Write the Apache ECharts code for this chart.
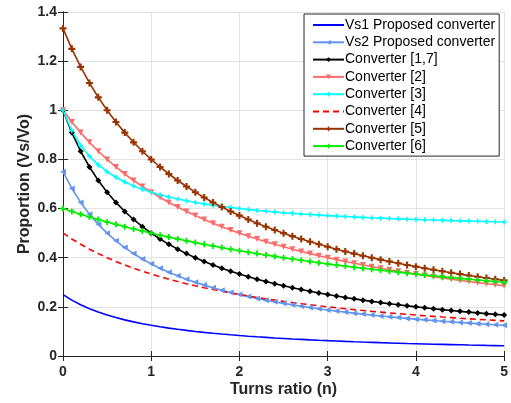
<!DOCTYPE html>
<html><head><meta charset="utf-8">
<script src="https://cdn.jsdelivr.net/npm/echarts@6/dist/echarts.min.js"></script>
<style>html,body{margin:0;padding:0;background:#fff}#c{width:511px;height:403px}</style>
</head><body><div id="c"></div>
<script>
const turns = [0,0.1,0.2,0.3,0.4,0.5,0.6,0.7,0.8,0.9,1,1.1,1.2,1.3,1.4,1.5,1.6,1.7,1.8,1.9,2,2.1,2.2,2.3,2.4,2.5,2.6,2.7,2.8,2.9,3,3.1,3.2,3.3,3.4,3.5,3.6,3.7,3.8,3.9,4,4.1,4.2,4.3,4.4,4.5,4.6,4.7,4.8,4.9,5];
const vs1 = [0.25,0.2273,0.2083,0.1923,0.1786,0.1667,0.1563,0.1471,0.1389,0.1316,0.125,0.119,0.1136,0.1087,0.1042,0.1,0.0962,0.0926,0.0893,0.0862,0.0833,0.0806,0.0781,0.0758,0.0735,0.0714,0.0694,0.0676,0.0658,0.0641,0.0625,0.061,0.0595,0.0581,0.0568,0.0556,0.0543,0.0532,0.0521,0.051,0.05,0.049,0.0481,0.0472,0.0463,0.0455,0.0446,0.0439,0.0431,0.0424,0.0417];
const vs2 = [0.75,0.6818,0.625,0.5769,0.5357,0.5,0.4688,0.4412,0.4167,0.3947,0.375,0.3571,0.3409,0.3261,0.3125,0.3,0.2885,0.2778,0.2679,0.2586,0.25,0.2419,0.2344,0.2273,0.2206,0.2143,0.2083,0.2027,0.1974,0.1923,0.1875,0.1829,0.1786,0.1744,0.1705,0.1667,0.163,0.1596,0.1563,0.1531,0.15,0.1471,0.1442,0.1415,0.1389,0.1364,0.1339,0.1316,0.1293,0.1271,0.125];
const conv17 = [1,0.9091,0.8333,0.7692,0.7143,0.6667,0.625,0.5882,0.5556,0.5263,0.5,0.4762,0.4545,0.4348,0.4167,0.4,0.3846,0.3704,0.3571,0.3448,0.3333,0.3226,0.3125,0.303,0.2941,0.2857,0.2778,0.2703,0.2632,0.2564,0.25,0.2439,0.2381,0.2326,0.2273,0.2222,0.2174,0.2128,0.2083,0.2041,0.2,0.1961,0.1923,0.1887,0.1852,0.1818,0.1786,0.1754,0.1724,0.1695,0.1667];
const conv2 = [1,0.9524,0.9091,0.8696,0.8333,0.8,0.7692,0.7407,0.7143,0.6897,0.6667,0.6452,0.625,0.6061,0.5882,0.5714,0.5556,0.5405,0.5263,0.5128,0.5,0.4878,0.4762,0.4651,0.4545,0.4444,0.4348,0.4255,0.4167,0.4082,0.4,0.3922,0.3846,0.3774,0.3704,0.3636,0.3571,0.3509,0.3448,0.339,0.3333,0.3279,0.3226,0.3175,0.3125,0.3077,0.303,0.2985,0.2941,0.2899,0.2857];
const conv3 = [1,0.9167,0.8571,0.8125,0.7778,0.75,0.7273,0.7083,0.6923,0.6786,0.6667,0.6563,0.6471,0.6389,0.6316,0.625,0.619,0.6136,0.6087,0.6042,0.6,0.5962,0.5926,0.5893,0.5862,0.5833,0.5806,0.5781,0.5758,0.5735,0.5714,0.5694,0.5676,0.5658,0.5641,0.5625,0.561,0.5595,0.5581,0.5568,0.5556,0.5543,0.5532,0.5521,0.551,0.55,0.549,0.5481,0.5472,0.5463,0.5455];
const conv4 = [0.5,0.4762,0.4545,0.4348,0.4167,0.4,0.3846,0.3704,0.3571,0.3448,0.3333,0.3226,0.3125,0.303,0.2941,0.2857,0.2778,0.2703,0.2632,0.2564,0.25,0.2439,0.2381,0.2326,0.2273,0.2222,0.2174,0.2128,0.2083,0.2041,0.2,0.1961,0.1923,0.1887,0.1852,0.1818,0.1786,0.1754,0.1724,0.1695,0.1667,0.1639,0.1613,0.1587,0.1563,0.1538,0.1515,0.1493,0.1471,0.1449,0.1429];
const conv5 = [1.3333,1.25,1.1765,1.1111,1.0526,1,0.9524,0.9091,0.8696,0.8333,0.8,0.7692,0.7407,0.7143,0.6897,0.6667,0.6452,0.625,0.6061,0.5882,0.5714,0.5556,0.5405,0.5263,0.5128,0.5,0.4878,0.4762,0.4651,0.4545,0.4444,0.4348,0.4255,0.4167,0.4082,0.4,0.3922,0.3846,0.3774,0.3704,0.3636,0.3571,0.3509,0.3448,0.339,0.3333,0.3279,0.3226,0.3175,0.3125,0.3077];
const conv6 = [0.6,0.5882,0.5769,0.566,0.5556,0.5455,0.5357,0.5263,0.5172,0.5085,0.5,0.4918,0.4839,0.4762,0.4688,0.4615,0.4545,0.4478,0.4412,0.4348,0.4286,0.4225,0.4167,0.411,0.4054,0.4,0.3947,0.3896,0.3846,0.3797,0.375,0.3704,0.3659,0.3614,0.3571,0.3529,0.3488,0.3448,0.3409,0.3371,0.3333,0.3297,0.3261,0.3226,0.3191,0.3158,0.3125,0.3093,0.3061,0.303,0.3];
const seriesNames = ['Vs1 Proposed converter','Vs2 Proposed converter','Converter [1,7]','Converter [2]','Converter [3]','Converter [4]','Converter [5]','Converter [6]'];
const xTicks = [0,1,2,3,4,5];
const yTicks = [0,0.2,0.4,0.6,0.8,1,1.2,1.4];

const pair = arr => turns.map((n,i)=>[n,arr[i]]);
const plus = 'path://M3.5,0H6.5V3.5H10V6.5H6.5V10H3.5V6.5H0V3.5H3.5Z';
const txt = '#262626';
const FONT = 'Liberation Sans, Arial';
function mk(name, data, color, opts){
  return Object.assign({
    name, type:'line', data:pair(data), showSymbol:true, symbol:'none', symbolSize:6,
    lineStyle:{color, width:1.6}, itemStyle:{color}, emphasis:{disabled:true}
  }, opts||{});
}
const series = [
  mk(seriesNames[0], vs1, '#0000ff', {symbol:'none'}),
  mk(seriesNames[1], vs2, '#6495ed', {symbol:'triangle', symbolRotate:90, symbolSize:6}),
  mk(seriesNames[2], conv17, '#000000', {symbol:'diamond', symbolSize:6}),
  mk(seriesNames[3], conv2, '#ff6b6b', {symbol:'triangle', symbolRotate:180, symbolSize:6}),
  mk(seriesNames[4], conv3, '#00ffff', {symbol:plus, symbolSize:5}),
  mk(seriesNames[5], conv4, '#ff0000', {symbol:'none', lineStyle:{color:'#ff0000', width:1.6, type:[6,4]}}),
  mk(seriesNames[6], conv5, '#993300', {symbol:plus, symbolSize:7}),
  mk(seriesNames[7], conv6, '#00ee00', {symbol:plus, symbolSize:6})
];
const legendData = seriesNames.map((n,i)=> (i===0||i===5) ? {name:n, itemStyle:{opacity:0}} : {name:n});
const chart = echarts.init(document.getElementById('c'), null, {renderer:'canvas'});
const axLine = {show:true, lineStyle:{color:txt, width:1}};
chart.setOption({
  animation:false,
  backgroundColor:'#fff',
  grid:{left:63, right:5, top:12, bottom:47},
  legend:{
    orient:'vertical', left:304, top:14,
    data:legendData,
    itemWidth:31, itemHeight:6, itemGap:3.3,
    padding:[4,4,3,8],
    backgroundColor:'#fff', borderColor:txt, borderWidth:1,
    textStyle:{fontFamily:FONT, fontSize:14, lineHeight:14, color:'#000', padding:[0,0,0,-4]},
    selectedMode:false
  },
  xAxis:[{
    type:'value', min:0, max:5, interval:1,
    name:'Turns ratio (n)', nameLocation:'middle', nameGap:26, nameMoveOverlap:false,
    nameTextStyle:{fontFamily:FONT, fontWeight:'bold', fontSize:16, color:txt},
    axisLine:axLine, axisTick:{show:true, inside:true, length:5, lineStyle:{color:txt}},
    axisLabel:{fontFamily:FONT, fontWeight:'bold', fontSize:14, color:txt, margin:9,
      formatter:v=>xTicks.includes(v)?String(v):''},
    splitLine:{show:true, lineStyle:{color:'#e3e3e3', width:1}}
  },{
    type:'value', position:'top', min:0, max:5, interval:1,
    axisLine:axLine, axisTick:{show:true, inside:true, length:5, lineStyle:{color:txt}},
    axisLabel:{show:false}, splitLine:{show:false}
  }],
  yAxis:[{
    type:'value', min:0, max:1.4, interval:0.2,
    name:'Proportion (Vs/Vo)', nameLocation:'middle', nameGap:30, nameMoveOverlap:false,
    nameTextStyle:{fontFamily:FONT, fontWeight:'bold', fontSize:16, color:txt},
    axisLine:axLine, axisTick:{show:true, inside:true, length:5, lineStyle:{color:txt}},
    axisLabel:{fontFamily:FONT, fontWeight:'bold', fontSize:14, color:txt, margin:6,
      formatter:v=>{const t=yTicks.find(y=>Math.abs(y-v)<1e-6);return t===undefined?'':String(t);}},
    splitLine:{show:true, lineStyle:{color:'#e3e3e3', width:1}}
  },{
    type:'value', position:'right', min:0, max:1.4, interval:0.2,
    axisLine:axLine, axisTick:{show:true, inside:true, length:5, lineStyle:{color:txt}},
    axisLabel:{show:false}, splitLine:{show:false}
  }],
  series
});
</script></body></html>
